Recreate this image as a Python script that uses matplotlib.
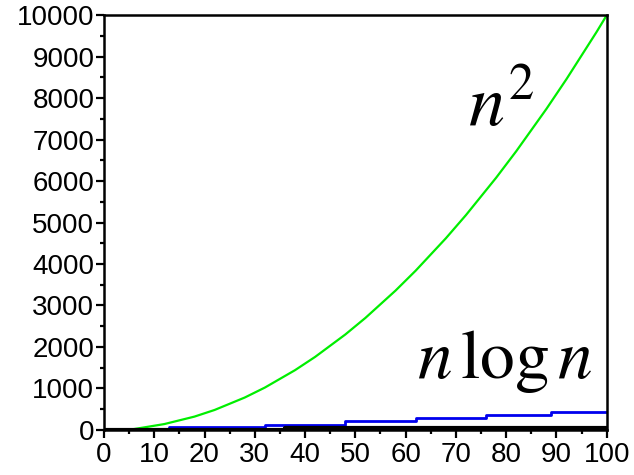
import numpy as np
import matplotlib.pyplot as plt
from matplotlib.ticker import MultipleLocator

plt.rcParams['font.family'] = ['Liberation Sans', 'DejaVu Sans']
plt.rcParams['mathtext.fontset'] = 'stix'

# n^2 curve, read every 2 units
n_sq_x = np.arange(0, 101, 2)
n_sq_y = [0, 0, 0, 20, 60, 100, 140, 200, 260, 320, 400, 480, 580, 680, 780,
          900, 1020, 1160, 1300, 1440, 1600, 1760, 1940, 2120, 2300, 2500,
          2700, 2920, 3140, 3360, 3600, 3840, 4100, 4360, 4620, 4900, 5180,
          5480, 5780, 6080, 6400, 6720, 7060, 7400, 7740, 8100, 8460, 8840,
          9220, 9600, 10000]

# n log n, stepped as drawn
nlogn_x = [0, 13, 32, 48, 62, 76, 89, 100]
nlogn_y = [0, 66, 125, 208, 290, 357, 432, 432]

# lower curve along the bottom
low_x = [0, 36, 100]
low_y = [0, 35, 35]

fig = plt.figure(figsize=(6.34, 4.75), dpi=100)
ax = fig.add_axes([0.164, 0.095, 0.793, 0.873])

ax.plot(n_sq_x, n_sq_y, color='#00ee00', lw=1.6)
ax.step(nlogn_x, nlogn_y, where='post', color='#0000ee', lw=2)
ax.step(low_x, low_y, where='post', color='black', lw=3)

ax.text(72.5, 7350, r'$n^2$', fontsize=52, ha='left', va='baseline')
ax.text(62.3, 1250, r'$n\,\log n$', fontsize=50, ha='left', va='baseline')

ax.set_xlim(0, 100)
ax.set_ylim(0, 10000)
ax.xaxis.set_major_locator(MultipleLocator(10))
ax.xaxis.set_minor_locator(MultipleLocator(5))
ax.yaxis.set_major_locator(MultipleLocator(1000))
ax.yaxis.set_minor_locator(MultipleLocator(500))
ax.tick_params(which='major', direction='out', length=6, width=1.6,
               labelsize=20)
ax.tick_params(which='minor', direction='out', length=3, width=1.6)
ax.tick_params(axis='y', pad=1)
ax.tick_params(axis='x', pad=3)
for s in ax.spines.values():
    s.set_linewidth(1.8)

fig.savefig('out.png', dpi=100)
